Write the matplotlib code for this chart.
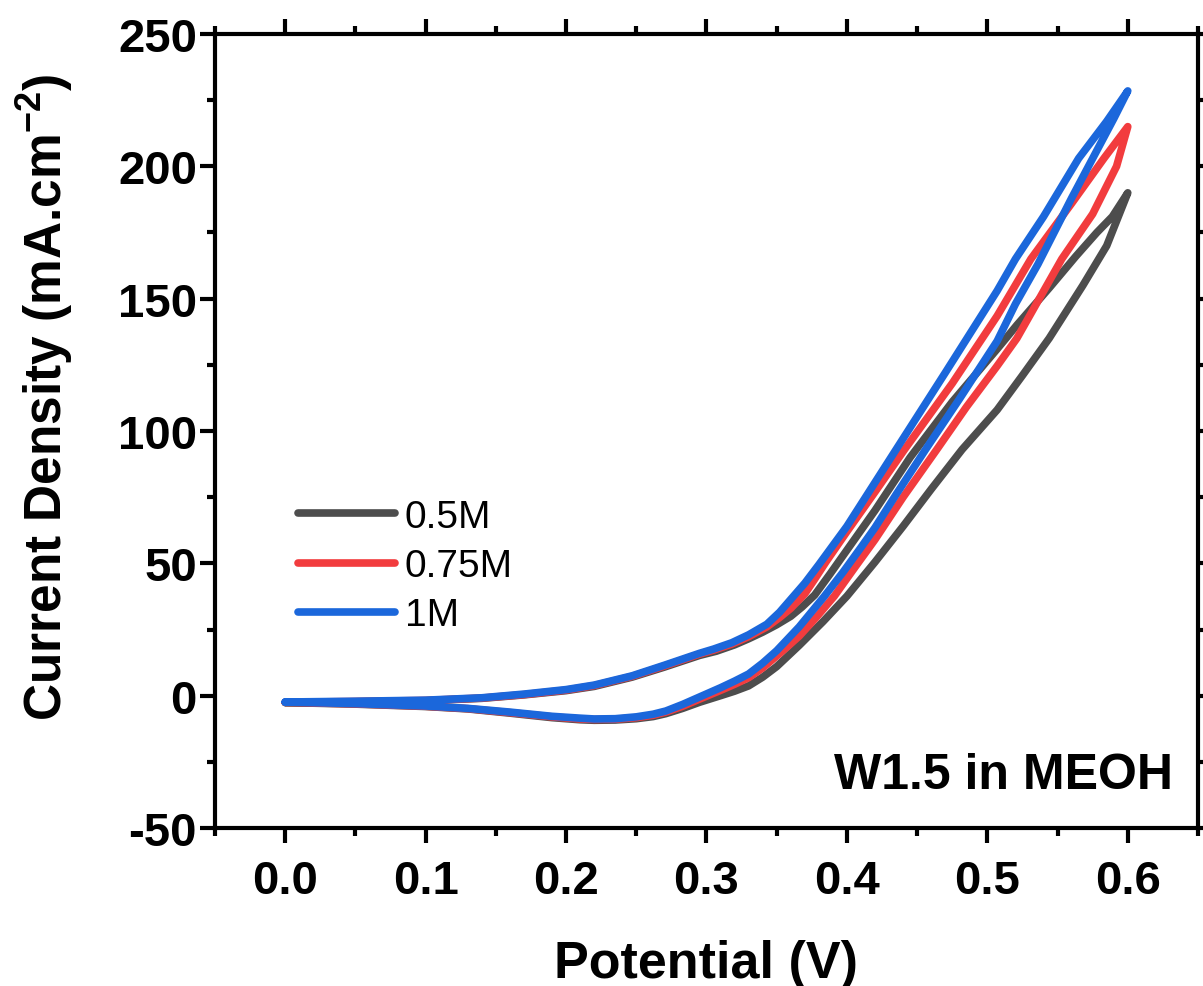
import matplotlib
matplotlib.use("Agg")
import matplotlib.pyplot as plt
from matplotlib.ticker import MultipleLocator

plt.rcParams['font.family'] = ['Liberation Sans', 'DejaVu Sans']
plt.rcParams['axes.unicode_minus'] = False
plt.rcParams['mathtext.fontset'] = 'custom'
plt.rcParams['mathtext.rm'] = 'Liberation Sans:bold'
plt.rcParams['mathtext.it'] = 'Liberation Sans:bold'
plt.rcParams['mathtext.bf'] = 'Liberation Sans:bold'

# Cyclic voltammograms, W1.5 in methanol: forward (anodic) and reverse branches
labels = ['0.5M', '0.75M', '1M']
colors = ['#4d4d4d', '#f23c3e', '#1b67db']

# 0.5M
E_fwd_05 = [0.00, 0.05, 0.10, 0.13, 0.16, 0.19, 0.21, 0.22, 0.235, 0.25, 0.262, 0.271, 0.283, 0.295,
            0.31, 0.32, 0.33, 0.34, 0.35, 0.358, 0.366, 0.383, 0.40, 0.42, 0.44, 0.46, 0.482, 0.507,
            0.525, 0.544, 0.568, 0.585, 0.60]
J_fwd_05 = [-2.6, -3.2, -4.1, -5.0, -6.6, -8.3, -9.1, -9.3, -9.2, -8.7, -7.9, -6.8, -4.8, -2.5,
            0.0, 1.7, 3.7, 7.0, 11.0, 15.0, 19.0, 28.0, 37.6, 50.5, 64.0, 78.0, 93.0, 108.0,
            121.0, 135.0, 155.0, 170.0, 190.0]
E_rev_05 = [0.60, 0.589, 0.578, 0.563, 0.544, 0.521, 0.507, 0.475, 0.445, 0.42, 0.40, 0.388, 0.377,
            0.368, 0.36, 0.35, 0.34, 0.33, 0.32, 0.307, 0.295, 0.27, 0.247, 0.22, 0.20, 0.17, 0.14,
            0.10, 0.05, 0.00]
J_rev_05 = [190.0, 181.0, 175.0, 166.0, 154.0, 140.0, 131.0, 111.0, 90.0, 70.0, 55.0, 46.0, 38.0,
            33.5, 30.0, 26.8, 24.0, 21.5, 19.2, 16.8, 15.2, 10.8, 7.0, 3.5, 1.9, 0.3, -1.0,
            -1.9, -2.3, -2.6]

# 0.75M
E_fwd_075 = [0.00, 0.05, 0.10, 0.13, 0.16, 0.19, 0.21, 0.22, 0.235, 0.25, 0.262, 0.271, 0.283, 0.295,
             0.31, 0.32, 0.33, 0.34, 0.35, 0.358, 0.366, 0.378, 0.391, 0.405, 0.42, 0.44, 0.464,
             0.485, 0.507, 0.521, 0.537, 0.553, 0.575, 0.592, 0.60]
J_fwd_075 = [-2.5, -3.1, -4.0, -4.9, -6.4, -8.0, -8.8, -9.0, -8.9, -8.3, -7.4, -6.2, -4.0, -1.3,
             2.0, 4.3, 6.8, 10.5, 15.0, 18.7, 22.5, 29.5, 37.6, 48.0, 59.0, 75.0, 93.0,
             109.0, 124.6, 135.0, 150.0, 165.0, 182.0, 200.0, 215.0]
E_rev_075 = [0.60, 0.583, 0.56, 0.531, 0.507, 0.475, 0.441, 0.42, 0.40, 0.385, 0.377, 0.370, 0.36,
             0.352, 0.343, 0.33, 0.318, 0.305, 0.295, 0.27, 0.247, 0.22, 0.20, 0.17, 0.14, 0.10,
             0.05, 0.00]
J_rev_075 = [215.0, 203.0, 186.0, 165.0, 143.5, 118.0, 93.0, 77.0, 62.0, 50.5, 44.0, 38.5, 33.0,
             29.5, 26.0, 22.3, 19.5, 17.2, 15.7, 11.2, 7.3, 3.8, 2.1, 0.4, -0.9, -1.8,
             -2.2, -2.5]

# 1M
E_fwd_1 = [0.00, 0.05, 0.10, 0.13, 0.16, 0.19, 0.21, 0.22, 0.235, 0.25, 0.262, 0.271, 0.283, 0.295,
           0.31, 0.32, 0.33, 0.34, 0.35, 0.358, 0.366, 0.375, 0.384, 0.397, 0.41, 0.42, 0.435,
           0.456, 0.48, 0.507, 0.52, 0.536, 0.56, 0.575, 0.59, 0.60]
J_fwd_1 = [-2.4, -3.0, -3.9, -4.8, -6.2, -7.8, -8.5, -8.8, -8.7, -8.0, -7.0, -5.8, -3.3, -0.5,
           3.0, 5.5, 8.2, 12.3, 17.0, 21.5, 26.0, 31.8, 37.6, 46.5, 56.0, 63.5, 76.0,
           93.0, 112.0, 134.0, 148.0, 163.0, 188.0, 203.0, 218.0, 228.5]
E_rev_1 = [0.60, 0.585, 0.565, 0.54, 0.52, 0.507, 0.47, 0.435, 0.40, 0.38, 0.37, 0.361, 0.352,
           0.343, 0.33, 0.318, 0.305, 0.295, 0.27, 0.247, 0.22, 0.20, 0.17, 0.14, 0.10, 0.05, 0.00]
J_rev_1 = [228.5, 217.0, 203.0, 181.0, 165.0, 153.0, 122.0, 93.0, 64.0, 49.5, 42.5, 37.0, 31.5,
           27.0, 23.0, 20.0, 17.6, 16.0, 11.5, 7.5, 4.0, 2.3, 0.6, -0.8, -1.7, -2.1, -2.4]

curves = [
    (E_fwd_05 + E_rev_05, J_fwd_05 + J_rev_05),
    (E_fwd_075 + E_rev_075, J_fwd_075 + J_rev_075),
    (E_fwd_1 + E_rev_1, J_fwd_1 + J_rev_1),
]

fig = plt.figure(figsize=(12.03, 9.87), dpi=100)
ax = fig.add_axes([215 / 1203, (987 - 829) / 987, (1198 - 215) / 1203, (829 - 35) / 987])

for (E, J), lab, c in zip(curves, labels, colors):
    ax.plot(E, J, color=c, lw=5.5, label=lab, solid_joinstyle='round', solid_capstyle='round')

ax.set_xlim(-0.05, 0.65)
ax.set_ylim(-50, 250)
ax.xaxis.set_major_locator(MultipleLocator(0.1))
ax.xaxis.set_minor_locator(MultipleLocator(0.05))
ax.yaxis.set_major_locator(MultipleLocator(50))
ax.yaxis.set_minor_locator(MultipleLocator(25))
ax.set_xticks([0.0, 0.1, 0.2, 0.3, 0.4, 0.5, 0.6])
ax.set_xticklabels(['0.0', '0.1', '0.2', '0.3', '0.4', '0.5', '0.6'])

for s in ax.spines.values():
    s.set_linewidth(3)
ax.tick_params(which='both', direction='out', width=3, top=True, right=True)
ax.tick_params(which='major', length=11)
ax.tick_params(which='minor', length=5.5)
ax.tick_params(axis='x', which='major', pad=11)
ax.tick_params(axis='y', which='major', pad=2)
for t in ax.get_xticklabels() + ax.get_yticklabels():
    t.set_fontsize(34)
    t.set_fontweight('bold')

ax.set_xlabel('Potential (V)', fontsize=37.5, fontweight='bold')
ax.xaxis.label.set_va('baseline')
ax.xaxis.set_label_coords((706 - 215) / 983, (829 - 978) / 794)
ax.set_ylabel('Current Density (mA.cm$^{-2}$)', fontsize=37, fontweight='bold')
ax.yaxis.label.set_va('center')
ax.yaxis.set_label_coords((45 - 215) / 983, (829 - 397) / 794)

ax.legend(loc='upper left', bbox_to_anchor=((298 - 215) / 983, (829 - 500) / 794), frameon=False,
          fontsize=28, handlelength=2.5, handletextpad=0.25, labelspacing=0.34,
          borderaxespad=0, borderpad=0)

ax.text((1173 - 215) / 983, (829 - 789) / 794, 'W1.5 in MEOH', transform=ax.transAxes,
        ha='right', va='baseline', fontsize=36, fontweight='bold')

fig.savefig('out.png', dpi=100)
